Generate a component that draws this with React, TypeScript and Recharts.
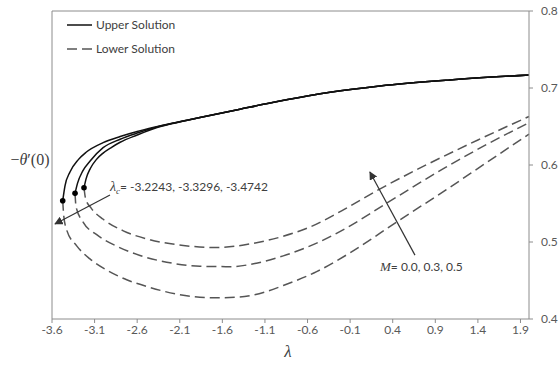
import {
  ComposedChart,
  Line,
  Scatter,
  XAxis,
  YAxis,
  ReferenceLine,
  Label,
} from 'recharts'

// λ ticks and -θ'(0) ticks
const lambdaTicks = [-3.6, -3.1, -2.6, -2.1, -1.6, -1.1, -0.6, -0.1, 0.4, 0.9, 1.4, 1.9]
const thetaTicks = [0.4, 0.5, 0.6, 0.7, 0.8]

// turning points λc for M = 0.0, 0.3, 0.5
const criticalLambda = [-3.2243, -3.3296, -3.4742]
const criticalTheta = [0.5705, 0.5632, 0.5536]

// shared tail of the upper solution (the three curves coincide here)
const tailLambda = [-2.0, -1.863, -1.393, -0.924, -0.337, 0.25, 1.071, 2.0]
const tailTheta = [0.6585, 0.6617, 0.6725, 0.683, 0.6945, 0.7027, 0.7105, 0.717]

// upper solution, near the turning point
const upperLambdaM0 = [-3.2243, -3.2, -3.15, -3.08, -3.0, -2.9, -2.8, -2.6, -2.4, -2.2]
const upperThetaM0 = [0.5705, 0.582, 0.5955, 0.607, 0.6155, 0.623, 0.6295, 0.639, 0.6475, 0.6535]
const upperLambdaM3 = [-3.3296, -3.3, -3.24, -3.15, -3.0, -2.8, -2.6, -2.4, -2.2]
const upperThetaM3 = [0.5632, 0.5765, 0.592, 0.6055, 0.6225, 0.6335, 0.6415, 0.6483, 0.6538]
const upperLambdaM5 = [-3.4742, -3.4474, -3.389, -3.291, -3.2, -3.0, -2.8, -2.6, -2.4, -2.2]
const upperThetaM5 = [0.5536, 0.573, 0.591, 0.607, 0.6165, 0.629, 0.637, 0.6435, 0.649, 0.654]

// lower solution
const lowerLambdaM0 = [-3.2243, -3.205, -3.14, -2.998, -2.763, -2.45, -2.059, -1.667, -1.276, -0.885, -0.58, -0.2, 0.211, 0.8, 1.4, 2.0]
const lowerThetaM0 = [0.5705, 0.556, 0.544, 0.5295, 0.5145, 0.503, 0.4955, 0.4928, 0.4975, 0.5075, 0.519, 0.5405, 0.5665, 0.6005, 0.6325, 0.663]
const lowerLambdaM3 = [-3.3296, -3.318, -3.233, -3.075, -2.84, -2.567, -2.254, -1.863, -1.5, -1.2, -0.885, -0.493, -0.1, 0.309, 1.0, 1.5, 2.0]
const lowerThetaM3 = [0.5632, 0.546, 0.5255, 0.5095, 0.4945, 0.4825, 0.4738, 0.4685, 0.468, 0.4725, 0.482, 0.4985, 0.521, 0.549, 0.5955, 0.6265, 0.655]
const lowerLambdaM5 = [-3.4742, -3.462, -3.4275, -3.31, -3.154, -2.958, -2.723, -2.45, -2.098, -1.707, -1.4, -1.1, -0.885, -0.493, -0.1, 0.446, 1.03, 1.5, 2.0]
const lowerThetaM5 = [0.5536, 0.534, 0.5156, 0.495, 0.478, 0.4635, 0.451, 0.441, 0.4315, 0.4275, 0.4285, 0.435, 0.4435, 0.4615, 0.486, 0.526, 0.568, 0.603, 0.64]

const zip = (xs: number[], ys: number[]) => xs.map((x, i) => ({ x, y: ys[i] }))

const upperCurves = [
  zip([...upperLambdaM0, ...tailLambda], [...upperThetaM0, ...tailTheta]),
  zip([...upperLambdaM3, ...tailLambda], [...upperThetaM3, ...tailTheta]),
  zip([...upperLambdaM5, ...tailLambda], [...upperThetaM5, ...tailTheta]),
]
const lowerCurves = [
  zip(lowerLambdaM0, lowerThetaM0),
  zip(lowerLambdaM3, lowerThetaM3),
  zip(lowerLambdaM5, lowerThetaM5),
]
const turningPoints = zip(criticalLambda, criticalTheta)

const AXIS = '#8c8c8c'
const TEXT = '#404040'
const SANS = 'Lato, "Open Sans", sans-serif'
const SERIF = '"Liberation Serif", "DejaVu Serif", serif'
const DASH = '10 5'

export default function App() {
  return (
    <div style={{ position: 'absolute', left: 0, top: 0, background: '#fff' }}>
      <ComposedChart width={560} height={365} margin={{ top: 11, right: 0, bottom: 0, left: 0 }}>
        <defs>
          <marker id="arrowHead" viewBox="0 0 10 10" refX="9" refY="5" markerWidth="7" markerHeight="7" orient="auto">
            <path d="M0,0 L10,5 L0,10 z" fill="#333" />
          </marker>
        </defs>
        <XAxis
          type="number"
          dataKey="x"
          domain={[-3.6, 2.0]}
          ticks={lambdaTicks}
          interval={0}
          height={46}
          tickFormatter={(v: number) => v.toFixed(1)}
          tick={{ fontSize: 12, fill: '#595959', fontFamily: SANS }}
          tickSize={4}
          axisLine={{ stroke: AXIS }}
          tickLine={{ stroke: AXIS }}
        >
          <Label
            content={() => (
              <text x={288} y={357} textAnchor="middle" fontFamily={SERIF} fontStyle="italic" fontSize={17} fill={TEXT}>
                λ
              </text>
            )}
          />
        </XAxis>
        <YAxis
          yAxisId="left"
          orientation="left"
          dataKey="y"
          domain={[0.4, 0.8]}
          width={52}
          tick={false}
          tickLine={false}
          axisLine={{ stroke: AXIS }}
        >
          <Label
            content={() => (
              <text x={30} y={165} textAnchor="middle" fontFamily={SERIF} fontSize={16} fill={TEXT}>
                −<tspan fontStyle="italic">θ</tspan>′(0)
              </text>
            )}
          />
        </YAxis>
        <YAxis
          yAxisId="r"
          orientation="right"
          dataKey="y"
          domain={[0.4, 0.8]}
          ticks={thetaTicks}
          interval={0}
          width={31}
          tickFormatter={(v: number) => v.toFixed(1)}
          tick={{ fontSize: 12, fill: '#595959', fontFamily: SANS, textAnchor: 'start' }}
          tickSize={4}
          tickMargin={8}
          axisLine={{ stroke: AXIS }}
          tickLine={{ stroke: AXIS }}
        />
        <ReferenceLine yAxisId="r" y={0.8} stroke={AXIS} />

        {lowerCurves.map((d, i) => (
          <Line
            key={'lower' + i}
            yAxisId="r"
            data={d}
            dataKey="y"
            type="monotone"
            stroke="#555"
            strokeWidth={1.5}
            strokeDasharray={DASH}
            dot={false}
            isAnimationActive={false}
          />
        ))}
        {upperCurves.map((d, i) => (
          <Line
            key={'upper' + i}
            yAxisId="r"
            data={d}
            dataKey="y"
            type="monotone"
            stroke="#111"
            strokeWidth={1.5}
            dot={false}
            isAnimationActive={false}
          />
        ))}
        <Scatter
          yAxisId="r"
          data={turningPoints}
          dataKey="y"
          isAnimationActive={false}
          shape={(p: any) => <circle cx={p.cx} cy={p.cy} r={2.8} fill="#000" />}
        />

        <ReferenceLine
          yAxisId="r"
          segment={[{ x: -2.919, y: 0.561 }, { x: -3.565, y: 0.5234 }]}
          stroke="#333"
          strokeWidth={1.2}
          markerEnd="url(#arrowHead)"
        />
        <ReferenceLine
          yAxisId="r"
          segment={[{ x: 0.661, y: 0.483 }, { x: 0.132, y: 0.591 }]}
          stroke="#333"
          strokeWidth={1.2}
          markerEnd="url(#arrowHead)"
        />

        <g fill={TEXT}>
          <line x1={67} y1={25} x2={92} y2={25} stroke="#111" strokeWidth={1.5} />
          <text x={96} y={29} fontSize={12} fontFamily={SANS}>Upper Solution</text>
          <line x1={67} y1={49} x2={92} y2={49} stroke="#555" strokeWidth={1.5} strokeDasharray={DASH} />
          <text x={96} y={53} fontSize={12} fontFamily={SANS}>Lower Solution</text>

          <text x={110} y={191} fontSize={12} fontFamily={SANS}>
            <tspan fontFamily={SERIF} fontStyle="italic" fontSize={14}>λ</tspan>
            <tspan fontFamily={SERIF} fontStyle="italic" fontSize={9} dy={3}>c</tspan>
            <tspan dy={-3}>= -3.2243, -3.3296, -3.4742</tspan>
          </text>
          <text x={380} y={271} fontSize={12} fontFamily={SANS}>
            <tspan fontFamily={SERIF} fontStyle="italic" fontSize={13}>M</tspan>
            <tspan>= 0.0, 0.3, 0.5</tspan>
          </text>
        </g>
      </ComposedChart>
    </div>
  )
}
